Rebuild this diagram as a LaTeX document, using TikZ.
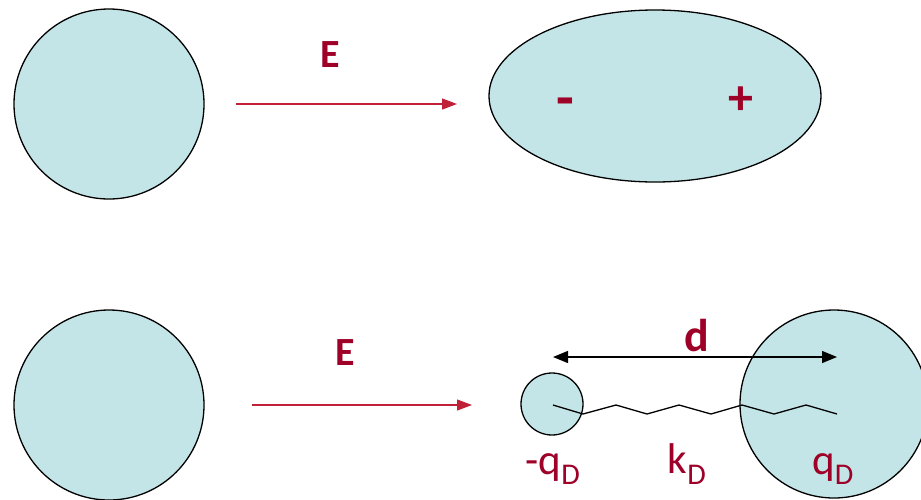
\documentclass[tikz,border=0pt]{standalone}
\usepackage{fontspec}
\setmainfont{Carlito}
\usetikzlibrary{arrows.meta,shapes.geometric}
\definecolor{cellFill}{RGB}{196,229,232}
\definecolor{fieldRed}{RGB}{192,32,56}
\definecolor{labelRed}{RGB}{158,0,40}

\begin{document}
\begin{tikzpicture}[
    x=1pt,
    y=-1pt,
    cell/.style={circle, draw=black, line width=1.3pt, fill=cellFill, inner sep=0pt},
    blob/.style={ellipse, draw=black, line width=1.3pt, fill=cellFill, inner sep=0pt},
    field/.style={draw=fieldRed, line width=1.2pt, -{Triangle[length=15pt,width=11pt]}},
    span/.style={draw=black, line width=1.3pt, {Triangle[length=15pt,width=12pt]}-{Triangle[length=15pt,width=12pt]}},
    spring/.style={draw=black, line width=1.3pt, line join=miter},
    bigLabel/.style={text=labelRed, font=\fontsize{40}{44}\selectfont\bfseries, inner sep=0pt},
    signLabel/.style={text=labelRed, font=\fontsize{58}{60}\selectfont\bfseries, inner sep=0pt},
    chargeLabel/.style={text=labelRed, font=\fontsize{43}{46}\selectfont, inner sep=0pt}
]
\path[use as bounding box] (0,0) rectangle (921,499);

% Top row: sphere, then the stretched sphere in the field.
\node[cell, minimum size=190pt] (sphereTop) at (109,104) {};
\coordinate (fieldTopStart) at (236,104);
\coordinate (fieldTopEnd) at (457,104);
\draw[field] (fieldTopStart) -- (fieldTopEnd);
\node[bigLabel] (fieldTopLabel) at (330,55) {E};
\node[blob, minimum width=332pt, minimum height=172pt] (stretched) at (655,96) {};
\node[signLabel, anchor=base] (minusSign) at (565,117) {-};
\node[bigLabel, font=\fontsize{50}{52}\selectfont\bfseries] (plusSign) at (741,101) {+};

% Bottom row: sphere, then the dipole model.
\node[cell, minimum size=190pt] (sphereBottom) at (109,405) {};
\coordinate (fieldBottomStart) at (252,405);
\coordinate (fieldBottomEnd) at (472,405);
\draw[field] (fieldBottomStart) -- (fieldBottomEnd);
\node[bigLabel] (fieldBottomLabel) at (345,353) {E};

\node[cell, minimum size=62pt] (smallCharge) at (552,404) {};
\node[cell, minimum size=188pt] (bigCharge) at (834,404) {};

% Spring between the two charges.
\foreach \i/\px/\py in {0/553/405,1/583/414,2/616/405,3/647/414,4/679/405,
                        5/711/414,6/742/405,7/774/414,8/806/405,9/837/414} {
    \coordinate (k\i) at (\px,\py);
}
\draw[spring] (k0) foreach \i in {1,...,9} {-- (k\i)};

\coordinate (dLeft) at (553,357);
\coordinate (dRight) at (837,357);
\draw[span] (dLeft) -- (dRight);
\node[bigLabel, font=\fontsize{46}{48}\selectfont\bfseries] (dLabel) at (697,336) {d};

\node[chargeLabel] (minusQ) at (553,469) {-q\textsubscript{D}};
\node[chargeLabel] (springK) at (687,464) {k\textsubscript{D}};
\node[chargeLabel] (plusQ) at (833,469) {q\textsubscript{D}};
\end{tikzpicture}
\end{document}
